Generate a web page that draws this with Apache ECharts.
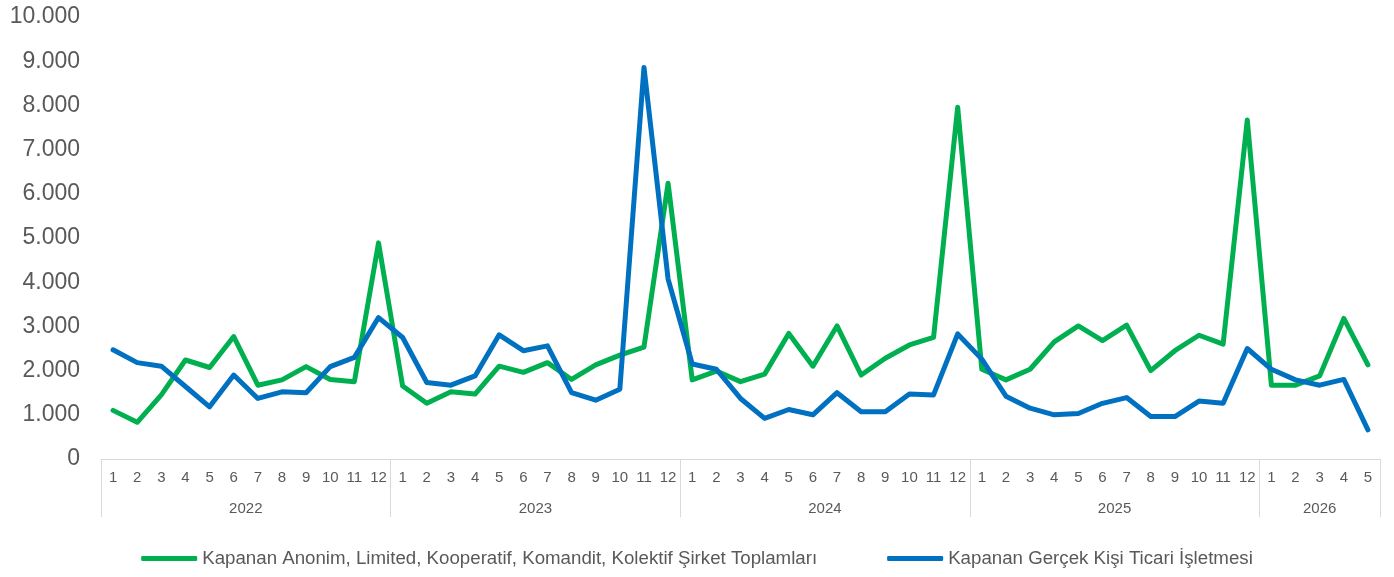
<!DOCTYPE html>
<html>
<head>
<meta charset="utf-8">
<script src="https://cdn.jsdelivr.net/npm/echarts@6/dist/echarts.min.js"></script>
<style>
  html, body { margin: 0; padding: 0; background: #fff; }
  #main { width: 1394px; height: 577px; }
</style>
</head>
<body>
<div id="main"></div>
<script>
// ay etiketleri, 2022-01 .. 2026-05
const years = ['2022', '2023', '2024', '2025', '2026']
const yearMonths = [12, 12, 12, 12, 5]
const months = []
yearMonths.forEach(n => { for (let m = 1; m <= n; m++) months.push(String(m)) })

// Kapanan Anonim, Limited, Kooperatif, Komandit, Kolektif Şirket Toplamları
const sirketValues = [
  1100, 830, 1450, 2240, 2070, 2770, 1670, 1790, 2090, 1800, 1750, 4890,
  1650, 1260, 1520, 1470, 2100, 1960, 2180, 1800, 2130, 2350, 2530, 6240,
  1790, 1990, 1750, 1920, 2840, 2100, 3010, 1900, 2280, 2580, 2750, 7960,
  2030, 1790, 2030, 2650, 3010, 2680, 3030, 2000, 2450, 2800, 2600, 7670,
  1670, 1670, 1880, 3180, 2130
]
// Kapanan Gerçek Kişi Ticari İşletmesi
const gercekValues = [
  2470, 2180, 2100, 1640, 1180, 1900, 1370, 1520, 1500, 2090, 2300, 3200,
  2750, 1730, 1670, 1880, 2810, 2450, 2560, 1500, 1330, 1580, 8860, 4070,
  2150, 2030, 1370, 920, 1120, 1000, 1500, 1070, 1070, 1470, 1450, 2830,
  2260, 1420, 1150, 1000, 1030, 1260, 1390, 960, 960, 1310, 1260, 2500,
  2030, 1790, 1670, 1800, 660
]

// yıl sınırları ve yıl etiketlerinin orta noktaları
const yearBounds = [0]
const yearCenters = []
yearMonths.forEach(n => {
  const start = yearBounds[yearBounds.length - 1]
  yearCenters.push(start + n / 2)
  yearBounds.push(start + n)
})

const font = '"Liberation Sans", Arial, sans-serif'
const grey = '#595959'
const lineGrey = '#d9d9d9'

const chart = echarts.init(document.getElementById('main'))
chart.setOption({
  animation: false,
  textStyle: { fontFamily: font },
  grid: { left: 101, right: 14, top: 17, bottom: 118, containLabel: false },
  legend: {
    top: 544,
    left: 'center',
    icon: 'roundRect',
    itemWidth: 56,
    itemHeight: 5,
    itemGap: 70,
    textStyle: { fontSize: 18.7, color: grey, fontFamily: font },
    data: [
      'Kapanan Anonim, Limited, Kooperatif, Komandit, Kolektif Şirket Toplamları',
      'Kapanan Gerçek Kişi Ticari İşletmesi'
    ]
  },
  xAxis: [
    {
      type: 'category',
      data: months,
      boundaryGap: true,
      axisLine: { lineStyle: { color: lineGrey, width: 1 } },
      axisTick: { show: false },
      axisLabel: { color: grey, fontSize: 15, margin: 11, interval: 0 },
      splitLine: { show: false }
    },
    {
      type: 'value',
      position: 'bottom',
      min: 0,
      max: months.length,
      axisLine: { show: false },
      axisTick: {
        show: true,
        length: 58,
        customValues: yearBounds,
        lineStyle: { color: lineGrey, width: 1 }
      },
      axisLabel: {
        color: grey,
        fontSize: 15,
        margin: 42,
        customValues: yearCenters,
        formatter: v => years[yearCenters.indexOf(v)] || ''
      },
      splitLine: { show: false }
    }
  ],
  yAxis: {
    type: 'value',
    min: 0,
    max: 10000,
    interval: 1000,
    axisLine: { show: false },
    axisTick: { show: false },
    splitLine: { show: false },
    axisLabel: {
      color: grey,
      fontSize: 23,
      margin: 21,
      formatter: v => v.toString().replace(/\B(?=(\d{3})+(?!\d))/g, '.')
    }
  },
  series: [
    {
      name: 'Kapanan Anonim, Limited, Kooperatif, Komandit, Kolektif Şirket Toplamları',
      type: 'line',
      xAxisIndex: 0,
      data: sirketValues,
      showSymbol: false,
      color: '#00B050',
      lineStyle: { width: 5, color: '#00B050', cap: 'round', join: 'round' }
    },
    {
      name: 'Kapanan Gerçek Kişi Ticari İşletmesi',
      type: 'line',
      xAxisIndex: 0,
      data: gercekValues,
      showSymbol: false,
      color: '#0070C0',
      lineStyle: { width: 5, color: '#0070C0', cap: 'round', join: 'round' }
    }
  ]
})
</script>
</body>
</html>
